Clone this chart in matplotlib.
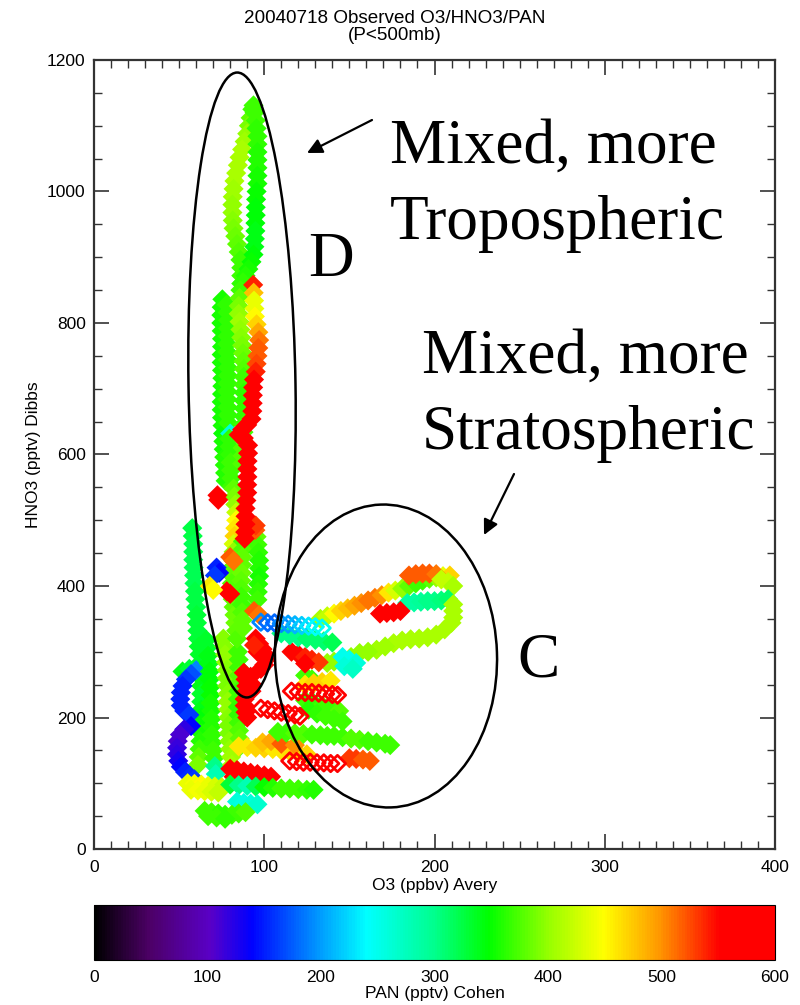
import matplotlib
matplotlib.use("Agg")
import matplotlib.pyplot as plt
import matplotlib.transforms as mtransforms
from matplotlib.patches import Ellipse
from matplotlib.colors import LinearSegmentedColormap, Normalize
from matplotlib.cm import ScalarMappable
import numpy as np

# ---------------- data: (O3 ppbv, HNO3 pptv, PAN pptv) ----------------
track_d_right = [(93.7,1131,370),(94.3,1120,370),(95.0,1108,370),(95.5,1096,365),(96.0,1084,365),
                 (96.0,1072,365),(96.0,1060,360),(96.0,1048,360),(96.0,1036,360),(96.0,1024,355),
                 (96.0,1012,355),(95.5,1000,350),(95.2,988,350),(95.0,976,345),(95.0,964,345),
                 (94.8,952,345),(94.8,940,340),(94.5,928,340),(94.2,916,340),(93.7,904,345),
                 (92.5,893,350),(90.7,882,355),(89.0,872,360),(87.5,862,365)]
track_d_left = [(93.0,1125,370),(92.0,1112,380),(91.0,1100,390),(90.0,1088,400),(88.5,1076,405),
                (87.0,1064,410),(85.5,1052,410),(84.5,1040,410),(83.5,1028,410),(82.5,1016,410),
                (82.0,1004,405),(81.5,992,405),(81.3,980,400),(81.3,968,400),(81.5,956,395),
                (82.0,944,390),(83.0,932,385),(84.0,920,380),(85.0,908,375),(86.0,896,370),
                (86.5,884,370),(86.5,872,370),(86.5,860,365)]
track_d_col1 = [(75.4,836,355),(75.0,824,355),(74.8,812,355),(74.8,800,355),(75.0,788,355),
                (75.2,776,355),(75.2,764,355),(75.0,752,355),(75.0,740,355),(75.2,728,355),
                (75.4,716,355),(75.4,704,355),(75.2,692,355),(75.0,680,355),(75.0,668,355),
                (75.2,656,355),(75.5,644,355),(75.8,632,350),(76.0,620,355),(76.2,608,355),
                (76.5,596,360),(76.8,584,360),(77.0,572,360),(77.3,560,360)]
track_d_col2 = [(78.0,828,365),(78.5,816,365),(78.7,804,365),(78.7,792,365),(78.5,780,365),
                (78.3,768,365),(78.3,756,365),(78.5,744,365),(78.7,732,365),(78.7,720,365),
                (78.5,708,365),(78.3,696,365),(78.3,684,365),(78.5,672,365),(78.7,660,365),
                (78.9,648,365),(80.0,632,260),(79.5,624,365),(79.7,612,365),(80.0,600,365),
                (80.3,588,370),(80.5,576,370),(80.7,564,370),(81.0,552,370)]
track_d_mid = [(86.0,850,370),(85.5,838,380),(85.0,826,390),(85.0,814,400),(85.5,802,405),
               (86.0,790,400),(86.5,778,395),(87.0,766,390),(87.5,754,385),(87.8,742,380),
               (88.0,730,375),(88.0,718,370),(88.0,706,370),(88.0,694,365),(88.0,682,365),
               (88.0,670,365),(88.0,658,365),(88.0,646,370),(87.8,634,370),(87.5,622,370),
               (87.3,610,375),(87.2,598,375),(87.0,586,375)]
track_d_red = [(93.5,858,540),(93.8,846,480),(94.0,834,440),(94.2,822,440),(94.5,810,450),
               (95.5,798,470),(96.5,786,490),(97.0,774,510),(96.5,762,520),(96.0,750,520),
               (95.5,738,525),(95.0,726,540),(94.0,714,580),(93.5,702,590),(93.3,690,590),
               (93.2,678,590),(93.0,666,590),(92.5,654,590),(90.0,645,590),(87.0,638,590),
               (85.0,630,590),(88.0,625,590),(90.5,614,585),(90.5,602,585),(90.2,590,580),
               (90.1,578,580),(90.1,566,580),(90.0,554,585),(90.0,542,585),(89.5,530,585),
               (89.0,518,585),(89.0,506,585),(89.0,494,585),(88.8,482,580),(88.5,472,575)]
track_low_d = [(82.0,548,380),(82.5,536,390),(83.0,524,400),(83.5,512,420),(83.5,500,450),
               (83.0,488,460),(82.5,476,470),(82.0,464,430),(82.0,452,400),(81.5,440,390),
               (81.0,428,380),(81.0,416,380),(81.0,404,375),(81.0,392,375),(81.5,380,380),
               (82.0,368,380),(82.5,356,385),(83.0,344,385),(83.5,332,380),(84.0,320,375)]
track_low_d2 = [(87.5,468,370),(87.5,456,375),(87.2,444,380),(87.0,432,380),(86.8,420,385),
                (86.5,408,380),(86.5,396,375),(86.5,384,370),(86.8,372,370),(87.0,360,375),
                (87.2,348,380),(87.5,336,380)]
track_low_d3 = [(95.5,475,380),(96.0,463,370),(96.5,451,365),(97.0,439,360),(97.0,427,360),
                (97.0,415,355),(96.5,403,360),(96.2,391,365),(96.0,379,370)]
blobs_low_d = [(72.0,428,150),(73.5,420,140),(71.0,416,160),(80.0,444,520),(82.0,438,510),
               (78.0,392,560),(80.0,388,570),(68.0,400,460),(70.0,394,450),(73.0,531,580),
               (72.5,538,590),(94.8,485,520),(95.0,492,530),(94.0,362,520),(97.0,356,510)]
track_teal = [(57.7,488,325),(58.0,476,325),(58.3,464,320),(58.3,452,320),(58.3,440,320),
              (58.5,428,320),(58.8,416,320),(59.0,404,320),(59.3,392,325),(59.5,380,325),
              (60.0,368,325),(60.3,356,330),(60.5,344,330),(60.7,332,330),(61.0,320,330),
              (61.5,308,335),(62.0,296,335),(62.5,284,335),(63.0,272,340),(63.0,260,340),
              (63.0,248,340),(63.0,236,335),(63.0,224,335),(63.0,212,340),(63.0,200,345),
              (63.0,188,350),(63.0,176,355),(62.5,164,360),(62.0,152,370),(61.5,140,380),
              (61.0,128,390)]
track_g1 = [(66.0,318,335),(66.5,306,335),(67.0,294,340),(67.5,282,340),(68.0,270,345),
            (68.0,258,345),(68.3,246,350),(68.5,234,350),(68.5,222,355),(68.8,210,355),
            (69.0,198,360),(69.0,186,360),(69.2,174,365),(69.5,162,365),(70.0,150,370),
            (70.5,138,370),(71.0,126,300),(71.5,114,280)]
track_g2 = [(76.0,320,395),(76.5,308,395),(77.0,296,400),(77.5,284,400),(78.0,272,395),
            (78.0,260,390),(78.2,248,390),(78.5,236,395),(78.5,224,400),(78.8,212,400),
            (79.0,200,395),(79.0,188,390),(79.2,176,390),(79.5,164,395),(80.0,152,400),
            (80.5,140,405),(81.0,128,410)]
track_g3 = [(84.5,300,370),(85.0,288,370),(85.0,276,370),(85.2,264,375),(85.0,252,375),
            (84.8,240,370),(84.5,228,370),(84.5,216,365),(84.8,204,365),(85.0,192,370),
            (85.2,180,375),(85.5,168,380),(85.8,156,385)]
red_low = [(88.0,268,590),(89.0,258,590),(89.5,248,590),(89.0,238,590),(88.5,228,590),
           (88.5,218,590),(89.0,208,590),(90.0,200,590),(92.0,262,590),(93.0,250,585),
           (92.5,240,590)]
red_up = [(95.0,320,590),(97.0,312,590),(99.0,304,580),(100.5,296,590),(101.0,288,590),
          (100.0,280,590),(98.0,274,590),(96.0,300,560),(94.0,310,540)]
blue_arc = [(52.0,270,340),(56.0,274,330),(60.0,272,190),(57.0,266,170),(54.0,258,160),
            (52.0,248,150),(51.0,238,150),(50.7,228,150),(51.0,218,150),(53.0,210,150),
            (56.0,204,160)]
purple_arc = [(57.0,187,140),(53.0,182,120),(50.5,174,110),(49.2,164,110),(48.8,154,115),
              (48.8,144,120),(49.5,134,130),(51.0,125,140),(53.5,117,150),(56.5,111,155),
              (59.0,106,160)]
band_yellow = [(85,156,460),(90,155,460),(95,154,470),(100,153,470),(105,152,460),(110,150,460),
               (115,148,465),(120,146,470),(125,144,470),(99,162,480),(104,164,490),
               (110,160,520),(118,158,500)]
band_red = [(80,122,590),(84,120,590),(88,118,590),(92,116,590),(96,114,590),(100,112,585),
            (104,110,590),(82,110,590),(87,108,590)]
band_yg = [(55,100,440),(59,99,445),(63,98,450),(67,96,440),(71,95,430),(75,94,420),
           (57,90,440),(61,89,445),(65,88,440),(69,87,430),(73,86,420)]
band_cyan_green = [(80,98,330),(85,97,300),(90,96,280),(95,95,320),(100,94,350),(105,93,360),
                   (110,92,370),(115,92,370),(120,91,370),(125,90,365),(129,90,360)]
band_cyan = [(84,72,260),(88,70,255),(92,69,260),(96,68,265)]
band_bottom = [(65,58,370),(69,56,370),(73,54,365),(77,52,365),(81,52,370),(85,54,370),
               (89,56,375),(67,50,370),(72,48,370),(77,46,365)]
band_green_mid = [(108,178,370),(113,177,370),(118,176,375),(123,175,375),(128,174,370),
                  (133,173,370),(137,172,370),(141,172,370),(146,170,370),(151,168,375),
                  (156,166,375),(161,164,370),(166,162,370),(171,160,370),(174,158,370)]
band_orange_low = [(150,138,530),(154,137,530),(158,136,520),(162,134,520)]
green_cluster_c = [(124,264,370),(128,258,370),(124,226,370),(129,222,365),(134,218,370),
                   (139,214,370),(144,210,375),(126,212,360),(131,206,365),(136,202,370),
                   (141,198,370),(146,194,370),(124,250,460),(129,252,470),(134,254,470),
                   (139,256,460)]
c_upper = [(133,350,410),(137,354,420),(141,358,450),(145,362,470),(149,366,480),(153,370,490),
           (157,374,500),(161,378,510),(165,382,510),(169,386,500),(173,390,460),(177,393,430),
           (181,396,400),(185,400,380),(189,404,370),(193,408,370),(197,411,380),(201,413,400),
           (205,415,440),(209,416,470)]
c_orange_top = [(185,416,520),(189,418,520),(193,419,520),(197,419,520),(201,418,510),
                (204,410,420),(208,406,420),(211,400,410)]
c_cyan = [(184,374,290),(188,375,290),(192,376,295),(196,377,300),(200,377,300),
          (204,378,305),(208,380,310)]
c_red = [(168,358,590),(172,359,590),(176,360,590),(180,362,590)]
c_yellow_green = [(211,372,410),(211,362,410),(211,352,410),(210,344,410),(206,334,410),
                  (201,326,410),(196,322,410),(191,320,410),(186,319,410),(181,317,410),
                  (176,313,410),(171,308,405),(166,303,405),(161,300,400),(156,298,400),
                  (151,292,400),(146,287,400),(141,285,400),(137,283,400)]
c_cyan2 = [(146,292,250),(150,288,250),(154,283,260),(147,278,260),(152,274,270)]
c_orange_red = [(116,300,550),(120,296,550),(124,292,540),(128,288,540),(132,284,530),
                (124,282,560)]
c_teal = [(110,328,300),(115,325,300),(120,322,300),(125,320,310),(130,318,310),
          (135,316,310),(140,314,320)]

# open diamonds
open_blue = [(98,345,190),(102,344,180),(106,344,180),(110,343,190),(114,342,200),(118,341,210),
             (122,340,220),(126,339,230),(130,338,240),(134,336,250)]
open_red_1 = [(98,214,590),(102,212,590),(106,210,590),(110,208,590),(114,206,590),
              (118,204,590),(121,202,590)]
open_red_2 = [(116,240,590),(120,239,590),(124,238,580),(128,238,580),(132,237,590),
              (136,236,590),(140,235,590),(143,234,590)]
open_red_3 = [(115,134,590),(119,133,590),(123,132,590),(127,132,590),(131,131,590),
              (135,131,590),(139,130,590),(143,130,590)]

filled_tracks = [track_teal, blue_arc, purple_arc, track_g1, track_g2, track_g3,
                 track_d_col1, track_d_col2, track_d_left, track_d_right, track_d_mid,
                 track_low_d, track_low_d2, track_low_d3, blobs_low_d, track_d_red,
                 red_low, red_up, band_yellow, band_red, band_yg, band_cyan_green,
                 band_cyan, band_bottom, band_green_mid, band_orange_low, green_cluster_c,
                 c_upper, c_orange_top, c_cyan, c_red, c_yellow_green, c_cyan2,
                 c_orange_red, c_teal]
open_tracks = [open_blue, open_red_1, open_red_2, open_red_3]

x_ticks = [0, 100, 200, 300, 400]
y_ticks = [0, 200, 400, 600, 800, 1000, 1200]
cbar_ticks = [0, 100, 200, 300, 400, 500, 600]

# ---------------- colormap (IDL-like rainbow) ----------------
cmap = LinearSegmentedColormap.from_list("idl_rainbow", [
    (0.00, (0.0, 0.0, 0.0)),
    (0.08, (0.30, 0.0, 0.40)),
    (0.17, (0.35, 0.0, 0.78)),
    (0.23, (0.0, 0.0, 1.0)),
    (0.33, (0.0, 0.60, 1.0)),
    (0.40, (0.0, 1.0, 1.0)),
    (0.50, (0.0, 1.0, 0.55)),
    (0.58, (0.0, 1.0, 0.0)),
    (0.67, (0.60, 1.0, 0.0)),
    (0.75, (1.0, 1.0, 0.0)),
    (0.83, (1.0, 0.60, 0.0)),
    (0.92, (1.0, 0.0, 0.0)),
    (1.00, (1.0, 0.0, 0.0))])
norm = Normalize(0, 600)

plt.rcParams['font.family'] = ['Liberation Sans', 'DejaVu Sans']

W, H = 800, 1005
fig = plt.figure(figsize=(W / 100, H / 100), dpi=100)

def frac(x0, y0, x1, y1):
    return [x0 / W, 1 - y1 / H, (x1 - x0) / W, (y1 - y0) / H]

ax = fig.add_axes(frac(94, 60, 775, 849))

def cat(tracks):
    arr = np.array([p for t in tracks for p in t], dtype=float)
    return arr[:, 0], arr[:, 1], arr[:, 2]

fx, fy, fc = cat(filled_tracks)
ax.scatter(fx, fy, c=fc, cmap=cmap, norm=norm, marker='D', s=105, linewidths=0, zorder=2)
ox, oy, oc = cat(open_tracks)
ax.scatter(ox, oy, facecolors='none', edgecolors=cmap(norm(oc)), marker='D', s=70,
           linewidths=2.0, zorder=3)

ax.set_xlim(0, 400)
ax.set_ylim(0, 1200)
ax.set_xticks(x_ticks)
ax.set_yticks(y_ticks)
ax.set_xticks(np.arange(0, 401, 10), minor=True)
ax.set_yticks(np.arange(0, 1201, 50), minor=True)
ax.tick_params(which='both', direction='in', top=True, right=True, colors='#333333',
               labelcolor='black', labelsize=12.5)
ax.tick_params(which='major', length=11, width=1.2)
ax.tick_params(which='minor', length=5.5, width=1.0)
ax.tick_params(axis='x', pad=8)
ax.tick_params(axis='y', pad=6)
for sp in ax.spines.values():
    sp.set_linewidth(1.6)
    sp.set_color('#333333')
ax.set_xlabel('O3 (ppbv) Avery', fontsize=12.5, labelpad=2)
ax.set_ylabel('HNO3 (pptv) Dibbs', fontsize=12.5, labelpad=4)
fig.text(395 / W, 1 - 27 / H, '20040718 Observed O3/HNO3/PAN\n(P<500mb)', fontsize=13.6,
         ha='center', va='center', linespacing=0.95)

# colorbar
cax = fig.add_axes(frac(94, 905, 775, 960))
cb = fig.colorbar(ScalarMappable(norm=norm, cmap=cmap), cax=cax, orientation='horizontal',
                  ticks=cbar_ticks)
cb.outline.set_linewidth(0.8)
cax.tick_params(length=0, labelsize=12.5, pad=7)
cb.set_label('PAN (pptv) Cohen', fontsize=12.5, labelpad=1)

# ---------------- annotations (pixel coordinates) ----------------
pix = mtransforms.Affine2D().scale(1 / 100) + fig.dpi_scale_trans

def P(x, y):
    return (x, H - y)

fig.patches.append(Ellipse(P(242, 385), 107, 625, angle=0.9, transform=pix,
                           fill=False, edgecolor='black', linewidth=1.8, zorder=5))
fig.patches.append(Ellipse(P(386, 656), 222, 303, angle=2, transform=pix,
                           fill=False, edgecolor='black', linewidth=1.8, zorder=5))

serif = ['Liberation Serif', 'DejaVu Serif']
big = 45.5
for txt, (x, y) in [('Mixed, more', (390, 163)), ('Tropospheric', (390, 239)),
                    ('D', (308, 276)), ('Mixed, more', (422, 373)),
                    ('Stratospheric', (422, 449)), ('C', (517, 676))]:
    fig.text(*P(x, y), txt, transform=pix, family=serif, fontsize=big,
             ha='left', va='baseline')

arrow = dict(arrowstyle='-|>,head_length=0.9,head_width=0.45', color='black', lw=1.6,
             shrinkA=0, shrinkB=0)
fig.add_artist(matplotlib.text.Annotation('', xy=P(307, 153), xytext=P(372, 120),
                                          xycoords=pix, textcoords=pix, arrowprops=arrow))
fig.add_artist(matplotlib.text.Annotation('', xy=P(484, 535), xytext=P(514, 474),
                                          xycoords=pix, textcoords=pix, arrowprops=arrow))

fig.savefig('out.png', dpi=100, facecolor='white')
